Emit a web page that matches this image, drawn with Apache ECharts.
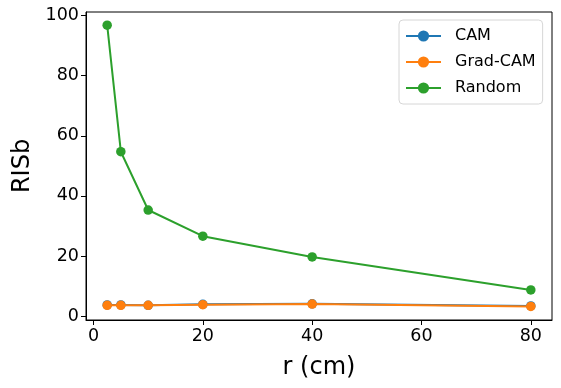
<!DOCTYPE html>
<html><head><meta charset="utf-8">
<script src="https://cdn.jsdelivr.net/npm/echarts@6/dist/echarts.min.js"></script>
<style>html,body{margin:0;padding:0;background:#fff}#c{width:561px;height:388px}</style>
</head><body><div id="c"></div>
<script>
const r = [2.5, 5, 10, 20, 40, 80];
const cam = [3.7, 3.7, 3.6, 3.9, 4.1, 3.4];
const gradcam = [3.6, 3.6, 3.6, 3.8, 4.0, 3.2];
const random = [96.8, 54.7, 35.3, 26.6, 19.7, 8.7];
const xTicks = [0, 20, 40, 60, 80];
const yTicks = [0, 20, 40, 60, 80, 100];
const names = ['CAM', 'Grad-CAM', 'Random'];
const colors = ['#1f77b4', '#ff7f0e', '#2ca02c'];
const values = [cam, gradcam, random];
const font = 'DejaVu Sans';
const chart = echarts.init(document.getElementById('c'), null, {renderer: 'canvas'});
chart.setOption({
  animation: false,
  grid: {left: 86, top: 12, right: 9, bottom: 68, outerBoundsMode: 'none', containLabel: false, show: true, borderColor: '#000', borderWidth: 1, backgroundColor: 'transparent'},
  legend: {
    orient: 'vertical', left: 399, top: 20, padding: [8, 7, 8, 6],
    itemWidth: 35, itemHeight: 14, itemGap: 10,
    backgroundColor: '#fff', borderColor: '#d6d6d6', borderWidth: 1, borderRadius: 4,
    textStyle: {fontFamily: font, fontSize: 16, color: '#000', padding: [0, 0, 0, 9]},
    data: names
  },
  xAxis: {
    type: 'value', min: -1.375, max: 83.875,
    name: 'r (cm)', nameLocation: 'middle', nameGap: 36,
    nameTextStyle: {fontFamily: font, fontSize: 24, color: '#000'},
    axisLine: {show: true, onZero: false, lineStyle: {color: '#000', width: 1}},
    axisTick: {show: true, length: 5, customValues: xTicks, lineStyle: {color: '#000'}},
    axisLabel: {customValues: xTicks, fontFamily: font, fontSize: 17.5, color: '#000', margin: 7},
    splitLine: {show: false}
  },
  yAxis: {
    type: 'value', min: -1.3, max: 101.2,
    name: 'RISb', nameLocation: 'middle', nameGap: 50, nameRotate: 90,
    nameTextStyle: {fontFamily: font, fontSize: 24, color: '#000'},
    axisLine: {show: true, onZero: false, lineStyle: {color: '#000', width: 1}},
    axisTick: {show: true, length: 5, customValues: yTicks, lineStyle: {color: '#000'}},
    axisLabel: {customValues: yTicks, fontFamily: font, fontSize: 17.5, color: '#000', margin: 7},
    splitLine: {show: false}
  },
  series: names.map((n, i) => ({
    name: n, type: 'line', data: r.map((x, j) => [x, values[i][j]]),
    symbol: 'circle', symbolSize: 9.5,
    lineStyle: {color: colors[i], width: 2},
    itemStyle: {color: colors[i]},
    z: 2 + i
  }))
});
</script></body></html>
